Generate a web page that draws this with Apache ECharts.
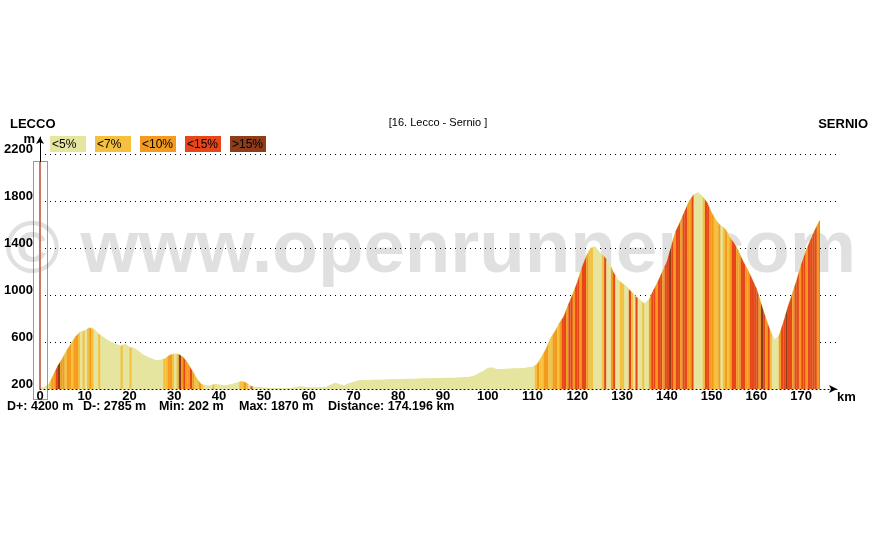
<!DOCTYPE html>
<html><head><meta charset="utf-8">
<script src="https://cdn.jsdelivr.net/npm/echarts@6/dist/echarts.min.js"></script>
<style>html,body{margin:0;padding:0;background:#fff}#c{width:878px;height:540px}</style>
</head><body><div id="c"></div>
<script>
// ---- data ----
const startName = 'LECCO';
const endName = 'SERNIO';
const stageTitle = '[16. Lecco - Sernio ]';
const totalKm = 174.196;
const dPlus = 4200, dMinus = 2785, minElev = 202, maxElev = 1870;
// elevation (m) at km 0,1,2,...,174 and at the finish (174.196 km)
const elevation = [
  212,213,240,320,400,460,530,590,650,685,
  695,722,710,670,643,615,595,580,565,580,
  555,545,520,490,470,455,440,445,460,490,
  498,495,470,420,355,290,240,228,226,240,
  235,228,232,240,250,265,255,225,215,212,
  208,206,205,204,203,202,205,210,220,215,
  211,210,210,211,215,235,250,235,228,245,
  257,268,272,271,274,276,275,277,279,278,
  280,281,283,282,284,286,287,286,289,290,
  290,292,291,294,295,298,300,310,330,350,
  375,380,365,365,368,370,372,372,375,380,
  385,410,470,540,630,690,760,820,920,1010,
  1110,1235,1330,1400,1410,1360,1330,1280,1200,1130,
  1100,1070,1030,990,955,925,960,1040,1115,1200,
  1285,1420,1545,1625,1715,1800,1855,1870,1837,1787,
  1700,1635,1590,1565,1496,1445,1375,1290,1220,1140,
  1057,935,815,705,617,650,765,895,1010,1128,
  1260,1370,1462,1550,1625,1635
];
// gradient class per half-km stripe (0:<5% 1:<7% 2:<10% 3:<15% 4:>15%), one row per 10 km
const gradeRows = [
  '00001223422122122101',
  '01210010000000001000',
  '10000000000000011221',
  '01423223211210000100',
  '00000000011210300000',
  '00000000000000000000',
  '00000000000000000000',
  '00000000000000000000',
  '00000000000000000000',
  '00000000000000000000',
  '00000000000000000000',
  '01211221122123323323',
  '32332110000130023001',
  '10031030010023323323',
  '34323323322300001332',
  '21120121233223322333',
  '32432310002334332332',
  '332333323'
];
const gradeLabels = ['<5%', '<7%', '<10%', '<15%', '>15%'];
const gradeColors = ['#e5e59f', '#f4c03e', '#f49a1e', '#e6461a', '#8e3c1a'];
const yTicks = [200, 600, 1000, 1400, 1800, 2200];
const xTickStep = 10;
const cursorKm = 0;

// ---- build ----
const FONT = 'Arial, "Liberation Sans", sans-serif';
const lastIdx = elevation.length - 1;
const kmAt = i => (i === lastIdx ? totalKm : i);
const profile = elevation.map((e, i) => [kmAt(i), e]);
const codes = gradeRows.join('');
const segs = [];
let ci = 0;
for (let i = 0; i < lastIdx; i++) {
  let c0, c1;
  if (i + 1 < lastIdx) { c0 = +codes[ci]; c1 = +codes[ci + 1]; ci += 2; }
  else { c0 = c1 = +codes[ci]; ci += 1; }
  segs.push([kmAt(i), kmAt(i + 1), elevation[i], elevation[i + 1], c0, c1]);
}
const yMin = yTicks[0];

const chart = echarts.init(document.getElementById('c'), null, {renderer: 'canvas'});

const graphics = [];
graphics.push({type: 'text', z: 0, style: {text: '\u00a9 www.openrunner.com', x: 5, y: 251, fill: '#e0e0e0',
  font: 'bold 74.5px ' + FONT, textAlign: 'left', textVerticalAlign: 'middle'}});
graphics.push({type: 'text', z: 10, style: {text: startName, x: 10, y: 124, fill: '#000', font: 'bold 13px ' + FONT, textVerticalAlign: 'middle'}});
graphics.push({type: 'text', z: 10, style: {text: endName, x: 868, y: 124, fill: '#000', font: 'bold 13px ' + FONT, textAlign: 'right', textVerticalAlign: 'middle'}});
graphics.push({type: 'text', z: 10, style: {text: stageTitle, x: 438, y: 123, fill: '#000', font: '11px ' + FONT, textAlign: 'center', textVerticalAlign: 'middle'}});
gradeLabels.forEach((lab, i) => {
  graphics.push({type: 'rect', z: 10, shape: {x: 50 + 45 * i, y: 136, width: 36, height: 16}, style: {fill: gradeColors[i]}});
  graphics.push({type: 'text', z: 11, style: {text: lab, x: 52 + 45 * i, y: 144.5, fill: '#000', font: '12px ' + FONT, textVerticalAlign: 'middle'}});
});
const stats = [
  ['D+: ' + dPlus + ' m', 7],
  ['D-: ' + dMinus + ' m', 83],
  ['Min: ' + minElev + ' m', 159],
  ['Max: ' + maxElev + ' m', 239],
  ['Distance: ' + totalKm.toFixed(3) + ' km', 328]
];
stats.forEach(s => graphics.push({type: 'text', z: 10, style: {text: s[0], x: s[1], y: 407, fill: '#000', font: 'bold 12.5px ' + FONT, textVerticalAlign: 'middle'}}));
// cursor box
graphics.push({type: 'rect', z: 10, shape: {x: 33.5, y: 161.5, width: 14, height: 238}, style: {fill: 'none', stroke: '#333', lineWidth: 1, lineDash: [1, 1]}});
// y-axis unit label
graphics.push({type: 'text', z: 10, style: {text: 'm', x: 35, y: 139, fill: '#000', font: 'bold 13px ' + FONT, textAlign: 'right', textVerticalAlign: 'middle'}});

chart.setOption({
  animation: false,
  backgroundColor: '#fff',
  grid: {left: 40, right: 41, top: 137, bottom: 151, containLabel: false},
  xAxis: {
    type: 'value', min: 0, max: 178, interval: xTickStep, z: 1,
    name: 'km', nameLocation: 'end', nameGap: 0,
    nameTextStyle: {color: '#000', fontWeight: 'bold', fontSize: 13, fontFamily: FONT, align: 'left', verticalAlign: 'top', padding: [2, 0, 0, 0]},
    axisLine: {show: true, symbol: ['none', 'arrow'], symbolSize: [6, 8], lineStyle: {color: '#000', width: 1, type: [1, 3]}},
    axisTick: {show: false},
    splitLine: {show: false},
    axisLabel: {showMaxLabel: false, color: '#000', fontWeight: 'bold', fontSize: 13, fontFamily: FONT, margin: 1, lineHeight: 13}
  },
  yAxis: {
    type: 'value', min: yMin, max: 2345, interval: 400, z: 1,
    axisLine: {show: true, symbol: ['none', 'arrow'], symbolSize: [6, 7], lineStyle: {color: '#000', width: 1}},
    axisTick: {show: false},
    splitLine: {show: true, showMinLine: false, showMaxLine: false, lineStyle: {color: '#000', width: 1, type: [1, 4]}},
    axisLabel: {showMaxLabel: false, color: '#000', fontWeight: 'bold', fontSize: 13, fontFamily: FONT, margin: 7,
      verticalAlign: 'bottom', lineHeight: 10,
      formatter: v => (yTicks.indexOf(v) >= 0 ? String(v) : '')}
  },
  graphic: graphics,
  series: [
    {
      type: 'line', z: 2, data: profile, showSymbol: false, silent: true,
      lineStyle: {color: gradeColors[0], width: 1},
      areaStyle: {color: gradeColors[0], opacity: 1},
      markLine: {
        silent: true, symbol: ['none', 'none'], label: {show: false},
        lineStyle: {color: '#cf7565', width: 2, type: 'solid'},
        data: [[{coord: [cursorKm, yMin]}, {coord: [cursorKm, 2132]}]]
      }
    },
    {
      type: 'custom', z: 3, silent: true, data: segs,
      encode: {x: [0, 1], y: [2, 3]},
      renderItem: function (params, api) {
        const x0 = api.value(0), x1 = api.value(1), e0 = api.value(2), e1 = api.value(3);
        const c0 = api.value(4), c1 = api.value(5);
        const p0 = api.coord([x0, e0]), p1 = api.coord([x1, e1]);
        const b0 = api.coord([x0, yMin]), b1 = api.coord([x1, yMin]);
        const pm = [(p0[0] + p1[0]) / 2, (p0[1] + p1[1]) / 2];
        const bm = [pm[0], b0[1]];
        return {type: 'group', children: [
          {type: 'polygon', shape: {points: [b0, p0, pm, bm]}, style: {fill: gradeColors[c0]}},
          {type: 'polygon', shape: {points: [bm, pm, p1, b1]}, style: {fill: gradeColors[c1]}}
        ]};
      }
    }
  ]
});
</script></body></html>
